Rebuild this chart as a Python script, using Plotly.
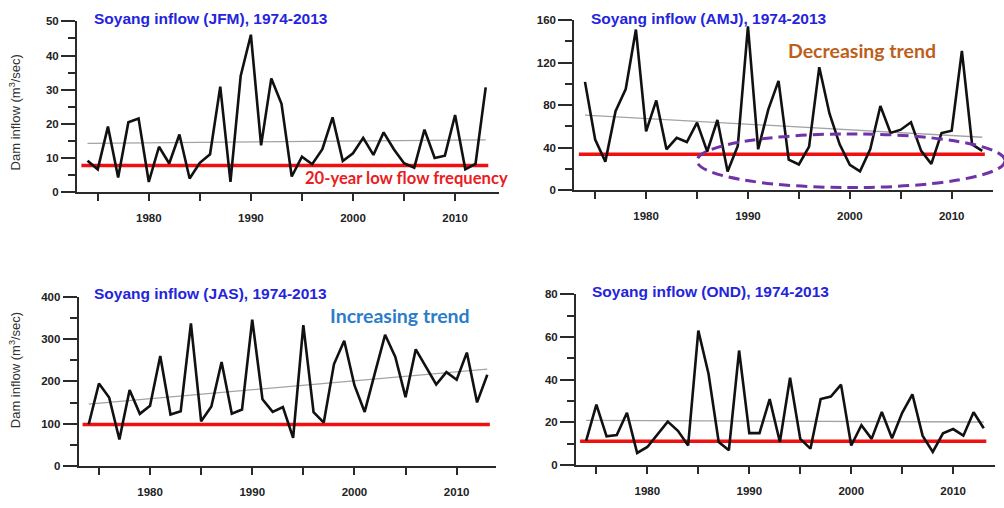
import plotly.graph_objects as go

# Seasonal inflow to Soyang dam, 1974-2013 (m3/sec)
years = list(range(1974, 2014))

jfm = [9.2, 6.7, 19.2, 4.3, 20.5, 21.6, 3.0, 13.3, 8.4, 16.9,
       4.0, 8.6, 11.1, 30.9, 3.0, 34.0, 46.1, 13.7, 33.3, 25.9,
       4.6, 10.4, 8.2, 12.6, 21.9, 9.1, 11.4, 15.9, 10.9, 17.5,
       12.6, 8.5, 7.2, 18.3, 10.0, 10.7, 22.6, 6.7, 8.3, 30.7]

amj = [101.8, 47.7, 26.9, 74.3, 95.1, 151.0, 55.4, 84.4, 38.5, 49.2,
       45.3, 63.6, 36.4, 66.0, 17.7, 41.6, 154.0, 38.5, 76.0, 102.8,
       28.7, 24.2, 41.0, 115.6, 72.2, 43.1, 23.9, 17.7, 38.5, 79.2,
       53.8, 56.9, 63.9, 37.0, 24.8, 53.8, 56.0, 130.9, 43.1, 37.0]

jas = [99, 195, 162, 63, 180, 123.6, 142.8, 260, 122, 129.8,
       337, 106, 141, 246, 124, 133.6, 346, 158, 128, 139.7,
       66.8, 333, 127.4, 102.9, 241, 296, 191, 128, 219.6, 310,
       258, 162.8, 275.6, 233.4, 192.7, 221.9, 204, 268, 150.5, 215.7]

ond = [11.4, 28.2, 13.4, 14.0, 24.4, 5.6, 8.4, 14.5, 20.3, 16.0,
       9.1, 62.9, 42.7, 10.7, 6.9, 53.6, 14.9, 14.9, 30.8, 10.7,
       40.8, 12.2, 7.6, 30.9, 32.0, 37.6, 9.1, 18.6, 12.2, 24.8,
       12.5, 24.4, 33.1, 13.7, 6.1, 14.8, 16.8, 13.7, 24.7, 17.2]

season_names = ["JFM", "AMJ", "JAS", "OND"]
series = [jfm, amj, jas, ond]

# 20-year low flow frequency for each season
low_flow = [7.8, 33.9, 98.3, 11.1]
low_flow_span = [1973.4, 2013.25]

# Linear trend end points (1974, 2013)
trend_start = [14.3, 70.6, 146.6, 20.9]
trend_end = [15.3, 49.8, 228.8, 20.1]

y_max = [50, 160, 400, 80]
y_major = [10, 40, 100, 20]
x_ranges = [[1972.97, 2014.3], [1972.95, 2014.05], [1973.02, 2013.85], [1973.0, 2014.1]]

# Subplot placement (paper fractions)
x_domains = [[0.0767, 0.497], [0.572, 0.989], [0.0784, 0.494], [0.5737, 0.991]]
y_domains = [[0.6246, 0.969], [0.6285, 0.9719], [0.0722, 0.414], [0.0748, 0.419]]

title_pos = [(92, 13), (589, 12.3), (92.3, 294.3), (590, 292.7)]

W, H = 1004, 508
AX_FONT = dict(family="Liberation Sans, Arial, sans-serif", size=11.5, color="#222222")

fig = go.Figure()

for i in range(4):
    xa = "x" if i == 0 else f"x{i + 1}"
    ya = "y" if i == 0 else f"y{i + 1}"

    # trend line
    fig.add_trace(go.Scatter(
        x=[years[0], years[-1]], y=[trend_start[i], trend_end[i]],
        mode="lines", line=dict(color="#a3a3a3", width=1.3),
        xaxis=xa, yaxis=ya, showlegend=False, hoverinfo="skip"))
    # low flow threshold
    fig.add_trace(go.Scatter(
        x=low_flow_span, y=[low_flow[i], low_flow[i]],
        mode="lines", line=dict(color="#f01010", width=3.5),
        xaxis=xa, yaxis=ya, showlegend=False, hoverinfo="skip"))
    # observed inflow
    fig.add_trace(go.Scatter(
        x=years, y=series[i], mode="lines",
        line=dict(color="#111111", width=2.6),
        xaxis=xa, yaxis=ya, showlegend=False,
        name=season_names[i]))

    xkey = "xaxis" if i == 0 else f"xaxis{i + 1}"
    ykey = "yaxis" if i == 0 else f"yaxis{i + 1}"
    fig.layout[xkey] = dict(
        domain=x_domains[i], range=x_ranges[i], anchor=ya,
        showgrid=False, zeroline=False,
        showline=True, linecolor="#2a2a2a", linewidth=2,
        ticks="outside", ticklen=7, tickwidth=2, tickcolor="#2a2a2a",
        tick0=1980, dtick=10, ticklabelstandoff=7,
        minor=dict(ticks="outside", ticklen=7, tickwidth=2, tickcolor="#2a2a2a",
                   dtick=5, tick0=1975, showgrid=False),
        tickfont=dict(AX_FONT, weight="bold"))
    fig.layout[ykey] = dict(
        domain=y_domains[i], range=[0, y_max[i]], anchor=xa,
        showgrid=False, zeroline=False,
        showline=True, linecolor="#2a2a2a", linewidth=2,
        ticks="outside", ticklen=14, tickwidth=2, tickcolor="#2a2a2a",
        tick0=0, dtick=y_major[i],
        minor=dict(ticks="outside", ticklen=7, tickwidth=2, tickcolor="#2a2a2a",
                   dtick=y_major[i] / 2, showgrid=False),
        tickfont=dict(AX_FONT, weight="bold"))

annotations = []
for i in range(4):
    px, py = title_pos[i]
    annotations.append(dict(
        text=f"Soyang inflow ({season_names[i]}), 1974-2013",
        x=px / W, y=1 - py / H, xref="paper", yref="paper",
        xanchor="left", yanchor="middle", showarrow=False,
        font=dict(family="Liberation Sans, Arial, sans-serif", size=15.5,
                  color="#2424dc", weight="bold")))

# y-axis titles on the left column
for cy in (109, 373):
    annotations.append(dict(
        text="Dam inflow (m<sup>3</sup>/sec)", textangle=-90,
        x=15 / W, y=1 - cy / H, xref="paper", yref="paper",
        xanchor="center", yanchor="middle", showarrow=False,
        font=dict(family="Liberation Sans, Arial, sans-serif", size=13, color="#333333")))

CAL = "Lato, Carlito, Calibri, sans-serif"
annotations.append(dict(
    text="20-year low flow frequency", x=302.7 / W, y=1 - 176 / H,
    xref="paper", yref="paper", xanchor="left", yanchor="middle", showarrow=False,
    font=dict(family=CAL, size=16.6, color="#ea1c24", weight="bold")))
annotations.append(dict(
    text="Decreasing trend", x=786 / W, y=1 - 45.7 / H,
    xref="paper", yref="paper", xanchor="left", yanchor="middle", showarrow=False,
    font=dict(family=CAL, size=19.5, color="#bd5f1c", weight="bold")))
annotations.append(dict(
    text="Increasing trend", x=328 / W, y=1 - 317 / H,
    xref="paper", yref="paper", xanchor="left", yanchor="middle", showarrow=False,
    font=dict(family=CAL, size=19.5, color="#2b7cc9", weight="bold")))

# dashed ellipse highlighting the low-flow period
shapes = [dict(
    type="circle", xref="paper", yref="paper",
    x0=697 / W, x1=1005 / W, y0=1 - 186 / H, y1=1 - 131 / H,
    line=dict(color="#7032a6", width=3, dash="11px,6px"), layer="above")]

fig.update_layout(
    width=W, height=H, margin=dict(l=0, r=0, t=0, b=0),
    paper_bgcolor="white", plot_bgcolor="white",
    annotations=annotations, shapes=shapes, showlegend=False)

fig.write_html("out.html")
